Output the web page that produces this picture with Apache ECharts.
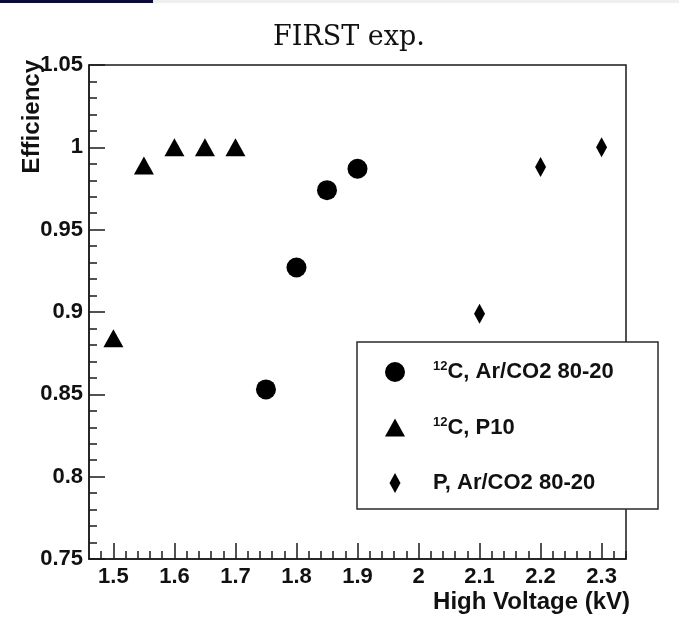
<!DOCTYPE html>
<html><head><meta charset="utf-8">
<script src="https://cdn.jsdelivr.net/npm/echarts@6/dist/echarts.min.js"></script>
<style>html,body{margin:0;padding:0;background:#fff}#c{width:679px;height:631px}</style>
</head><body><div id="c"></div>
<script>
// ---- data ----
const chartTitle = 'FIRST exp.';
const xTitle = 'High Voltage (kV)';
const yTitle = 'Efficiency';
const xTickLabels = [1.5, 1.6, 1.7, 1.8, 1.9, 2.0, 2.1, 2.2, 2.3];
const yTickLabels = [0.75, 0.8, 0.85, 0.9, 0.95, 1.0, 1.05];
const seriesNames = ['12C, Ar/CO2 80-20', '12C, P10', 'P, Ar/CO2 80-20'];
const hvC_ArCO2 = [1.75, 1.80, 1.85, 1.90];
const effC_ArCO2 = [0.853, 0.927, 0.974, 0.987];
const hvC_P10 = [1.50, 1.55, 1.60, 1.65, 1.70];
const effC_P10 = [0.884, 0.989, 1.000, 1.000, 1.000];
const hvP_ArCO2 = [2.10, 2.20, 2.30];
const effP_ArCO2 = [0.899, 0.988, 1.000];

// ---- layout / style ----
const X_MIN = 1.46, X_MAX = 2.34;
const xMinorTicks = [];
for (let v = 148; v <= 234; v += 2) { if (v % 10 !== 0) xMinorTicks.push(v / 100); }

const SANS = 'Liberation Sans, Arial, Helvetica, sans-serif';
const AX = '#1a1a1a';
const triPath = 'path://M10,0L20,18L0,18Z';
const diaPath = 'path://M5.5,0L11,10L5.5,20L0,10Z';

const zip = (a, b) => a.map((x, i) => [x, b[i]]);
const fmt = v => String(+(+v).toFixed(2));

const chart = echarts.init(document.getElementById('c'), null, {renderer: 'canvas'});
chart.setOption({
  animation: false,
  backgroundColor: '#fff',
  grid: [
    {left: 89, right: 53, top: 65, bottom: 72, show: true, borderColor: AX, borderWidth: 1.5, backgroundColor: 'transparent'},
    {left: 89, right: 53, top: 65, bottom: 72, show: false}
  ],
  xAxis: [
    {type: 'value', gridIndex: 0, min: X_MIN, max: X_MAX,
     axisLine: {show: true, onZero: false, lineStyle: {color: AX, width: 1.5}},
     axisTick: {show: true, inside: true, length: 16, customValues: xTickLabels, lineStyle: {color: AX, width: 1.5}},
     axisLabel: {show: true, customValues: xTickLabels, formatter: fmt, margin: 7,
                 fontFamily: SANS, fontWeight: 'bold', fontSize: 22, color: '#111'},
     splitLine: {show: false}},
    {type: 'value', gridIndex: 1, min: X_MIN, max: X_MAX,
     axisLine: {show: false},
     axisTick: {show: true, inside: true, length: 8, customValues: xMinorTicks, lineStyle: {color: AX, width: 1.5}},
     axisLabel: {show: false}, splitLine: {show: false}}
  ],
  yAxis: [
    {type: 'value', gridIndex: 0, min: 0.75, max: 1.05, interval: 0.05,
     axisLine: {show: true, onZero: false, lineStyle: {color: AX, width: 1.5}},
     axisTick: {show: true, inside: true, length: 16, lineStyle: {color: AX, width: 1.5}},
     minorTick: {show: true, splitNumber: 5, length: 8, lineStyle: {color: AX, width: 1.5}},
     axisLabel: {show: true, customValues: yTickLabels, formatter: fmt, margin: 6,
                 fontFamily: SANS, fontWeight: 'bold', fontSize: 22, color: '#111'},
     splitLine: {show: false}, minorSplitLine: {show: false}},
    {type: 'value', gridIndex: 1, min: 0.75, max: 1.05, show: false}
  ],
  legend: {
    orient: 'vertical', left: 385, top: 360, padding: 0, itemGap: 31.5,
    itemWidth: 20, itemHeight: 20, selectedMode: false, z: 20,
    data: [
      {name: seriesNames[0], icon: 'circle'},
      {name: seriesNames[1], icon: triPath},
      {name: seriesNames[2], icon: diaPath}
    ],
    formatter: n => n.replace(/^12/, '{sup|12}'),
    textStyle: {fontFamily: SANS, fontWeight: 'bold', fontSize: 22, color: '#111', lineHeight: 24,
                padding: [0, 0, 0, 23],
                rich: {sup: {fontFamily: SANS, fontWeight: 'bold', fontSize: 13, color: '#111', lineHeight: 12, verticalAlign: 'top'}}}
  },
  graphic: [
    {type: 'rect', shape: {x: 0, y: 0, width: 153, height: 3}, style: {fill: '#0b0b35'}, z: 30},
    {type: 'rect', shape: {x: 153, y: 0, width: 526, height: 3}, style: {fill: '#efefef'}, z: 30},
    {type: 'rect', shape: {x: 357, y: 342, width: 301, height: 167}, style: {fill: '#fff', stroke: '#2a2a2a', lineWidth: 1.5}, z: 10},
    {type: 'text', x: 349, y: 38, z: 30,
     style: {text: chartTitle, font: '27px "DejaVu Serif", serif', fill: '#111',
             textAlign: 'center', textVerticalAlign: 'middle', align: 'center', verticalAlign: 'middle'}},
    {type: 'text', x: 630, y: 602, z: 30,
     style: {text: xTitle, font: 'bold 24px ' + SANS, fill: '#111',
             textAlign: 'right', textVerticalAlign: 'middle', align: 'right', verticalAlign: 'middle'}},
    {type: 'text', x: 32, y: 60, rotation: Math.PI / 2, z: 30,
     style: {text: yTitle, font: 'bold 24px ' + SANS, fill: '#111',
             textAlign: 'right', textVerticalAlign: 'middle', align: 'right', verticalAlign: 'middle'}}
  ],
  series: [
    {name: seriesNames[0], type: 'scatter', xAxisIndex: 0, yAxisIndex: 0, symbol: 'circle', symbolSize: 20,
     itemStyle: {color: '#000', opacity: 1}, data: zip(hvC_ArCO2, effC_ArCO2)},
    {name: seriesNames[1], type: 'scatter', xAxisIndex: 0, yAxisIndex: 0, symbol: triPath, symbolSize: [20, 18],
     itemStyle: {color: '#000', opacity: 1}, data: zip(hvC_P10, effC_P10)},
    {name: seriesNames[2], type: 'scatter', xAxisIndex: 0, yAxisIndex: 0, symbol: diaPath, symbolSize: [11, 20],
     itemStyle: {color: '#000', opacity: 1}, data: zip(hvP_ArCO2, effP_ArCO2)}
  ]
});
</script>
</body></html>
